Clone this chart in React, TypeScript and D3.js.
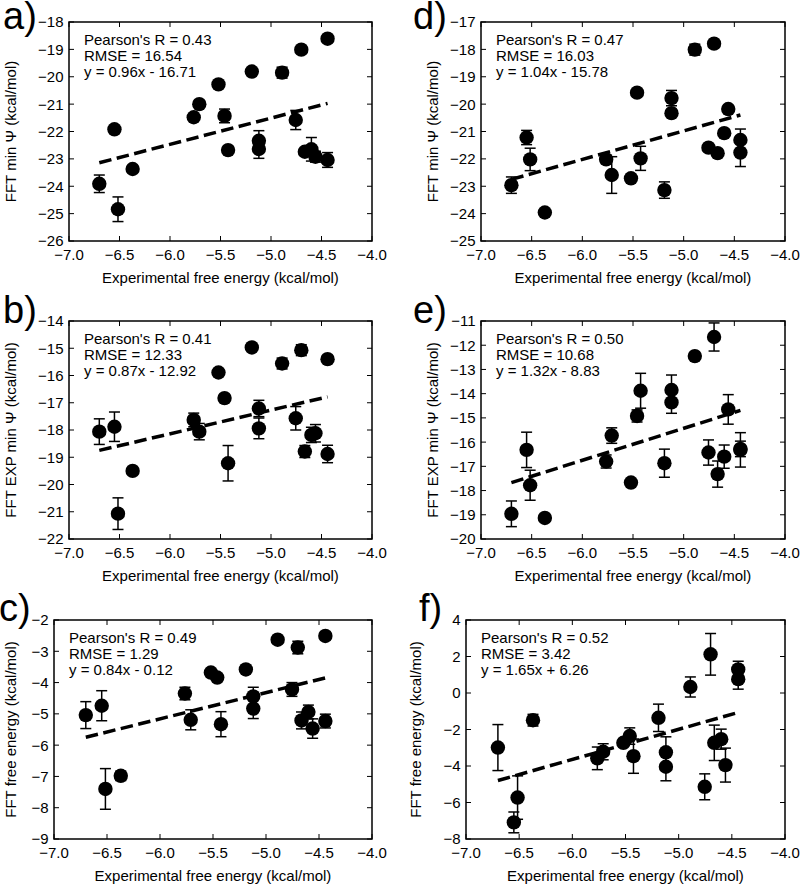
import React from "react";
import * as d3 from "d3";

// ---------- data ----------
const xExp = [-6.70, -6.55, -6.515, -6.37, -5.765, -5.71, -5.52, -5.46, -5.425, -5.19, -5.12, -5.12, -4.89, -4.755, -4.70, -4.665, -4.60, -4.56, -4.44, -4.44];

const yA = [-23.91, -21.92, -24.84, -23.37, -21.48, -21.00, -20.28, -21.43, -22.68, -19.81, -22.34, -22.64, -19.85, -21.58, -19.01, -22.74, -22.65, -22.92, -18.61, -23.04];
const eA = [0.32, 0.05, 0.45, 0.12, 0.08, 0.08, 0.06, 0.25, 0.08, 0.06, 0.37, 0.34, 0.2, 0.35, 0.06, 0.1, 0.43, 0.2, 0.05, 0.27];

const yB = [-18.06, -17.88, -21.07, -19.50, -17.63, -18.06, -15.89, -16.83, -19.22, -14.97, -17.21, -17.94, -15.56, -17.57, -15.07, -18.79, -18.18, -18.12, -15.40, -18.88];
const eB = [0.47, 0.54, 0.58, 0.1, 0.25, 0.3, 0.06, 0.12, 0.65, 0.06, 0.3, 0.38, 0.2, 0.43, 0.2, 0.22, 0.28, 0.32, 0.08, 0.32];

const yC = [-5.04, -4.74, -7.40, -6.98, -4.35, -5.19, -3.68, -3.84, -5.33, -3.58, -4.44, -4.83, -2.63, -4.22, -2.88, -5.21, -4.94, -5.47, -2.51, -5.23];
const eC = [0.43, 0.48, 0.65, 0.15, 0.2, 0.32, 0.06, 0.06, 0.4, 0.06, 0.29, 0.32, 0.06, 0.22, 0.2, 0.27, 0.22, 0.31, 0.12, 0.22];

const yD = [-22.96, -21.22, -22.02, -23.96, -22.02, -22.59, -22.71, -19.58, -21.98, -23.14, -19.78, -20.33, -18.01, -21.59, -17.79, -21.79, -21.06, -20.18, -21.31, -21.77];
const eD = [0.3, 0.26, 0.41, 0.05, 0.15, 0.67, 0.06, 0.06, 0.44, 0.3, 0.28, 0.08, 0.2, 0.06, 0.08, 0.06, 0.06, 0.08, 0.4, 0.51];

const yE = [-18.96, -16.32, -17.78, -19.13, -16.80, -15.73, -17.67, -14.92, -13.88, -16.87, -13.85, -14.36, -12.45, -16.43, -11.66, -17.32, -16.60, -14.65, -16.32, -16.28];
const eE = [0.53, 0.73, 0.62, 0.12, 0.27, 0.32, 0.08, 0.25, 0.72, 0.58, 0.62, 0.45, 0.1, 0.52, 0.58, 0.54, 0.48, 0.61, 0.71, 0.32];

const yF = [-2.99, -7.09, -5.73, -1.49, -3.58, -3.22, -2.73, -2.36, -3.46, -1.36, -3.25, -4.04, 0.33, -5.14, 2.12, -2.73, -2.53, -3.95, 1.29, 0.76];
const eF = [1.26, 0.57, 1.19, 0.32, 0.62, 0.44, 0.08, 0.45, 0.94, 0.75, 0.85, 0.77, 0.55, 0.71, 1.14, 0.97, 0.55, 0.93, 0.45, 0.55];

// fit lines: [slope, intercept]
const fitA = [0.96, -16.71];
const fitB = [0.87, -12.92];
const fitC = [0.84, -0.12];
const fitD = [1.04, -15.78];
const fitE = [1.32, -8.83];
const fitF = [1.65, 6.26];

const statsA = ["Pearson's R = 0.43", "RMSE = 16.54", "y = 0.96x - 16.71"];
const statsB = ["Pearson's R = 0.41", "RMSE = 12.33", "y = 0.87x - 12.92"];
const statsC = ["Pearson's R = 0.49", "RMSE = 1.29", "y = 0.84x - 0.12"];
const statsD = ["Pearson's R = 0.47", "RMSE = 16.03", "y = 1.04x - 15.78"];
const statsE = ["Pearson's R = 0.50", "RMSE = 10.68", "y = 1.32x - 8.83"];
const statsF = ["Pearson's R = 0.52", "RMSE = 3.42", "y = 1.65x + 6.26"];

const xTicks = [-7.0, -6.5, -6.0, -5.5, -5.0, -4.5, -4.0];
const yTicksA = [-26, -25, -24, -23, -22, -21, -20, -19, -18];
const yTicksB = [-22, -21, -20, -19, -18, -17, -16, -15, -14];
const yTicksC = [-9, -8, -7, -6, -5, -4, -3, -2];
const yTicksD = [-25, -24, -23, -22, -21, -20, -19, -18, -17];
const yTicksE = [-20, -19, -18, -17, -16, -15, -14, -13, -12, -11];
const yTicksF = [-8, -6, -4, -2, 0, 2, 4];

const xLabel = "Experimental free energy (kcal/mol)";
const yLabelMin = "FFT min \u03A8 (kcal/mol)";
const yLabelExp = "FFT EXP min \u03A8 (kcal/mol)";
const yLabelFree = "FFT free energy (kcal/mol)";

// ---------- layout ----------
const FONT = "'Liberation Sans', Arial, Helvetica, sans-serif";

const panels = [
  { tag: "a)", ys: yA, es: eA, fit: fitA, stats: statsA, yTicks: yTicksA, yLabel: yLabelMin, L: 69, R: 372, T: 22, B: 241, ylx: 16, tagX: 3, tagY: 29 },
  { tag: "b)", ys: yB, es: eB, fit: fitB, stats: statsB, yTicks: yTicksB, yLabel: yLabelExp, L: 69, R: 372, T: 321, B: 539, ylx: 16, tagX: 3, tagY: 323 },
  { tag: "c)", ys: yC, es: eC, fit: fitC, stats: statsC, yTicks: yTicksC, yLabel: yLabelFree, L: 54, R: 372, T: 620, B: 839, ylx: 16, tagX: -1, tagY: 621 },
  { tag: "d)", ys: yD, es: eD, fit: fitD, stats: statsD, yTicks: yTicksD, yLabel: yLabelMin, L: 481, R: 785, T: 22, B: 241, ylx: 438, tagX: 413, tagY: 29 },
  { tag: "e)", ys: yE, es: eE, fit: fitE, stats: statsE, yTicks: yTicksE, yLabel: yLabelExp, L: 481, R: 785, T: 321, B: 539, ylx: 438, tagX: 413, tagY: 323 },
  { tag: "f)", ys: yF, es: eF, fit: fitF, stats: statsF, yTicks: yTicksF, yLabel: yLabelFree, L: 466, R: 785, T: 620, B: 839, ylx: 421, tagX: 419, tagY: 621 },
];

const fmtX = d3.format(".1f");
const fmtY = d3.format("d");

function Panel({ p }: { p: any }) {
  const x = d3.scaleLinear().domain([xTicks[0], xTicks[xTicks.length - 1]]).range([p.L, p.R]);
  const y = d3.scaleLinear().domain([p.yTicks[0], p.yTicks[p.yTicks.length - 1]]).range([p.B, p.T]);
  const x1 = d3.min(xExp) as number;
  const x2 = d3.max(xExp) as number;
  const line = d3.line<number>().x((d) => x(d)).y((d) => y(p.fit[0] * d + p.fit[1]));
  const tickLen = 5;
  const cap = 5.5;
  const cy = (p.T + p.B) / 2;
  const cx = (p.L + p.R) / 2;
  return (
    <g>
      <text x={p.tagX} y={p.tagY} fontSize={38} fontFamily={FONT} fill="#000">{p.tag}</text>
      {/* fit line */}
      <path d={line([x1, x2]) || ""} fill="none" stroke="#000" strokeWidth={3.5} strokeDasharray="12.5,5.5" />
      {/* error bars */}
      {xExp.map((xv, i) => {
        const yv = p.ys[i];
        const e = p.es[i];
        const px = x(xv);
        const yt = y(yv + e);
        const yb = y(yv - e);
        return (
          <g key={"e" + i} stroke="#000" strokeWidth={1.5}>
            <line x1={px} x2={px} y1={yt} y2={yb} />
            <line x1={px - cap} x2={px + cap} y1={yt} y2={yt} />
            <line x1={px - cap} x2={px + cap} y1={yb} y2={yb} />
          </g>
        );
      })}
      {/* points */}
      {xExp.map((xv, i) => (
        <circle key={"c" + i} cx={x(xv)} cy={y(p.ys[i])} r={7.2} fill="#000" />
      ))}
      {/* frame */}
      <rect x={p.L} y={p.T} width={p.R - p.L} height={p.B - p.T} fill="none" stroke="#000" strokeWidth={1.5} />
      {/* x ticks */}
      {xTicks.map((t) => (
        <g key={"xt" + t}>
          <line x1={x(t)} x2={x(t)} y1={p.B} y2={p.B - tickLen} stroke="#000" strokeWidth={1} />
          <line x1={x(t)} x2={x(t)} y1={p.T} y2={p.T + tickLen} stroke="#000" strokeWidth={1} />
          <text x={x(t)} y={p.B + 19} textAnchor="middle" fontSize={15} fontFamily={FONT} fill="#000">{fmtX(t)}</text>
        </g>
      ))}
      {/* y ticks */}
      {p.yTicks.map((t: number) => (
        <g key={"yt" + t}>
          <line x1={p.L} x2={p.L + tickLen} y1={y(t)} y2={y(t)} stroke="#000" strokeWidth={1} />
          <line x1={p.R} x2={p.R - tickLen} y1={y(t)} y2={y(t)} stroke="#000" strokeWidth={1} />
          <text x={p.L - 5.5} y={y(t)} dy="0.36em" textAnchor="end" fontSize={15} fontFamily={FONT} fill="#000">{fmtY(t)}</text>
        </g>
      ))}
      {/* stats */}
      {p.stats.map((s: string, i: number) => (
        <text key={"s" + i} x={p.L + 15} y={p.T + 23 + i * 16} fontSize={15} fontFamily={FONT} fill="#000">{s}</text>
      ))}
      {/* axis labels */}
      <text x={cx} y={p.B + 42} textAnchor="middle" fontSize={15} fontFamily={FONT} fill="#000">{xLabel}</text>
      <text transform={`translate(${p.ylx},${cy}) rotate(-90)`} textAnchor="middle" fontSize={15} fontFamily={FONT} fill="#000">{p.yLabel}</text>
    </g>
  );
}

export default function App() {
  return (
    <svg width={800} height={884} style={{ position: "absolute", left: 0, top: 0, background: "#fff" }}>
      <rect x={0} y={0} width={800} height={884} fill="#fff" />
      {panels.map((p) => (
        <Panel key={p.tag} p={p} />
      ))}
    </svg>
  );
}
